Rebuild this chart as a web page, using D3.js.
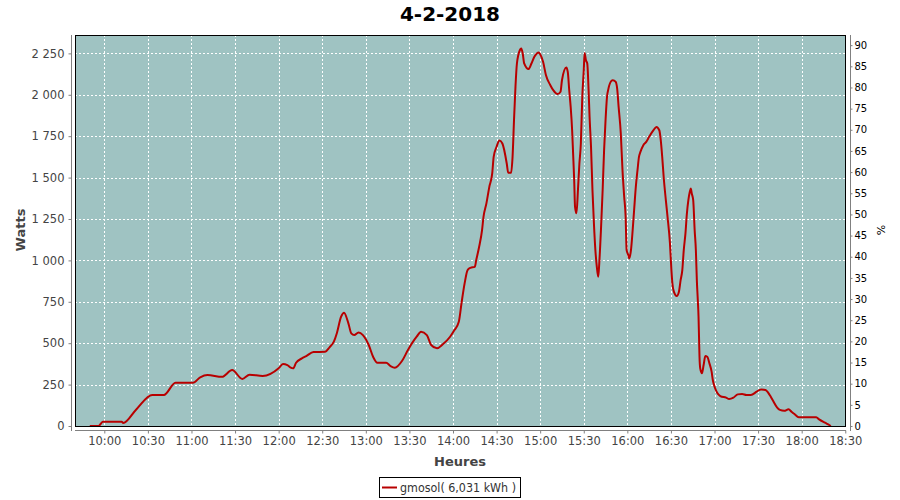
<!DOCTYPE html>
<html>
<head>
<meta charset="utf-8">
<script src="https://cdn.jsdelivr.net/npm/d3@7"></script>
<style>
  html, body { margin: 0; padding: 0; background: #fff; }
  svg { display: block; font-family: "DejaVu Sans", sans-serif; }
</style>
</head>
<body>
<svg id="chart" width="900" height="500"></svg>
<script>
// ---- data ----
const title = "4-2-2018";
const seriesName = "gmosol( 6,031 kWh )";
const times = [
  "09:50","09:56","09:59","10:12","10:13","10:22","10:33","10:41","10:49","11:01",
  "11:06","11:11","11:21","11:28","11:35","11:40","11:49","12:00","12:03","12:06",
  "12:08","12:10","12:12","12:16","12:19","12:24","12:32","12:35","12:38","12:40",
  "12:43","12:45","12:48","12:50","12:52","12:55","12:58","13:02","13:05","13:08",
  "13:14","13:17","13:20","13:25","13:29","13:35","13:38","13:42","13:45","13:49",
  "13:53","13:58","14:01","14:04","14:06","14:08","14:10","14:12","14:15","14:16",
  "14:18","14:20","14:21","14:23","14:25","14:27","14:28","14:30","14:32","14:34",
  "14:37","14:38","14:40","14:41","14:42","14:43","14:44","14:46","14:47","14:48",
  "14:49","14:52","14:54","14:56","14:59","15:00","15:02","15:04","15:07","15:09",
  "15:12","15:14","15:15","15:18","15:19","15:20","15:21","15:22","15:22:40","15:23:25",
  "15:24","15:25","15:26","15:27","15:28","15:29","15:30","15:30:35","15:31:30","15:32:25",
  "15:33:20","15:34","15:35","15:36","15:37","15:38","15:39","15:40","15:40:40","15:41:50",
  "15:43","15:44","15:45","15:46","15:47","15:49","15:50","15:52","15:53","15:54",
  "15:55:30","15:56:40","15:57:50","15:58:50","15:59:30","16:00:40","16:01:20","16:02:30","16:03:40","16:04:40",
  "16:05:50","16:07","16:08","16:09","16:11","16:13","16:15","16:18","16:20","16:22",
  "16:23","16:24","16:25","16:26:30","16:27:40","16:29:20","16:30:20","16:31","16:32","16:34",
  "16:35:30","16:36:40","16:37:50","16:38:50","16:40","16:41","16:42","16:43","16:43:40","16:44:20",
  "16:45:20","16:46:20","16:47:10","16:47:50","16:48:30","16:49","16:49:20","16:49:40","16:50:10","16:51:20",
  "16:52:30","16:53:40","16:55","16:56:30","16:58","16:58:50","17:00:10","17:01:50","17:04","17:08",
  "17:10","17:13","17:16","17:19","17:22","17:25","17:29","17:32","17:35","17:38",
  "17:40","17:43","17:45","17:48","17:51","17:53","17:55","17:58","18:10","18:12",
  "18:16","18:19","18:20"
];
const watts = [
  0,0,25,26,18,100,187,187,261,261,
  294,308,297,338,284,310,302,348,374,368,
  354,348,382,408,422,447,448,475,509,559,
  660,684,620,559,549,565,549,489,418,382,
  382,362,352,394,459,539,569,549,489,469,
  493,539,579,629,750,861,941,955,961,1002,
  1082,1183,1263,1344,1444,1525,1625,1686,1724,1706,
  1585,1529,1529,1625,1847,2048,2189,2269,2279,2249,
  2189,2155,2189,2229,2255,2245,2199,2118,2058,2028,
  2004,2018,2088,2165,2138,2028,1927,1786,1646,1485,
  1323,1284,1424,1585,1706,1987,2148,2253,2209,2189,
  2028,1867,1686,1424,1223,1062,961,901,982,1183,
  1424,1666,1847,1987,2037,2084,2088,2078,2037,1927,
  1766,1545,1384,1263,1062,1032,1012,1062,1183,1304,
  1444,1545,1625,1655,1696,1716,1746,1786,1806,1786,
  1726,1625,1505,1364,1263,1103,941,861,811,785,
  811,881,941,1062,1163,1284,1364,1414,1434,1404,
  1364,1183,1062,881,760,660,539,418,348,318,
  368,422,418,378,328,278,234,201,181,171,
  163,171,191,193,187,187,207,221,217,187,
  157,113,97,92,101,86,72,53,53,40,
  20,6,0
];
const yTicks = [0,250,500,750,1000,1250,1500,1750,2000,2250];
const pctTicks = [0,5,10,15,20,25,30,35,40,45,50,55,60,65,70,75,80,85,90];
const xTickLabels = ["10:00","10:30","11:00","11:30","12:00","12:30","13:00","13:30","14:00","14:30","15:00","15:30","16:00","16:30","17:00","17:30","18:00","18:30"];
const xLabel = "Heures", yLabel = "Watts", y2Label = "%";

// ---- helpers ----
function toDate(s) {
  const p = s.split(":").map(Number);
  return new Date(2018, 1, 4, p[0], p[1], p[2] || 0);
}
const data = times.map((t, i) => ({ t: toDate(t), v: watts[i] }));

// ---- layout ----
const L = 75, T = 35, R = 846, B = 426;
const svg = d3.select("#chart");

const x = d3.scaleTime()
  .domain([new Date(2018,1,4,9,39,50), new Date(2018,1,4,18,30,30)])
  .range([L, R]);
const y = d3.scaleLinear().domain([0, 2361]).range([B, T]);
const y2 = d3.scaleLinear().domain([0, 92.4]).range([B, T]);

const fr = d3.formatLocale({ decimal: ",", thousands: " ", grouping: [3], currency: ["", ""] });
const fmtW = fr.format(",d");

// title
svg.append("text").attr("x", 450).attr("y", 21).attr("text-anchor", "middle")
  .attr("font-size", 20).attr("font-weight", "bold").attr("fill", "#000").text(title);

// plot background
svg.append("rect").attr("x", L).attr("y", T).attr("width", R - L).attr("height", B - T)
  .attr("fill", "#9fc3c2");

const xTickDates = xTickLabels.map(toDate);

// grid
const grid = svg.append("g").attr("stroke", "#fff").attr("stroke-dasharray", "2,2").attr("stroke-width", 1);
grid.selectAll("line.v").data(xTickDates).join("line")
  .attr("x1", d => Math.round(x(d)) + 0.5).attr("x2", d => Math.round(x(d)) + 0.5)
  .attr("y1", T).attr("y2", B);
grid.selectAll("line.h").data(yTicks.filter(d => d > 0)).join("line")
  .attr("y1", d => Math.round(y(d)) + 0.5).attr("y2", d => Math.round(y(d)) + 0.5)
  .attr("x1", L).attr("x2", R);

// series
svg.append("defs").append("clipPath").attr("id", "clip")
  .append("rect").attr("x", L).attr("y", T).attr("width", R - L).attr("height", B - T);
const line = d3.line().x(d => x(d.t)).y(d => y(d.v)).curve(d3.curveMonotoneX);
svg.append("path").datum(data).attr("clip-path", "url(#clip)")
  .attr("fill", "none").attr("stroke", "#b80000").attr("stroke-width", 2)
  .attr("stroke-linejoin", "round").attr("d", line);

// plot outline
svg.append("rect").attr("x", L + 0.5).attr("y", T + 0.5).attr("width", R - L - 1).attr("height", B - T)
  .attr("fill", "none").attr("stroke", "#000").attr("stroke-width", 1);

// axes
const tf = d3.timeFormat("%H:%M");
const xAxis = svg.append("g").attr("transform", `translate(0,${B + 4.5})`)
  .call(d3.axisBottom(x).tickValues(xTickDates).tickFormat(tf).tickSizeInner(3).tickSizeOuter(0).tickPadding(3));
const yAxis = svg.append("g").attr("transform", `translate(${L - 3.5},0)`)
  .call(d3.axisLeft(y).tickValues(yTicks).tickFormat(fmtW).tickSizeInner(3).tickSizeOuter(0).tickPadding(4));
const y2Axis = svg.append("g").attr("transform", `translate(${R + 4.5},0)`)
  .call(d3.axisRight(y2).tickValues(pctTicks).tickFormat(d3.format("d")).tickSizeInner(2).tickSizeOuter(0).tickPadding(2));

[xAxis, yAxis, y2Axis].forEach(g => {
  g.select(".domain").attr("stroke", "#808080");
  g.selectAll(".tick line").attr("stroke", "#808080");
  g.selectAll(".tick text").attr("font-family", "DejaVu Sans, sans-serif").attr("fill", "#444");
});
xAxis.select(".domain").attr("d", `M${L},0H${R}`);
yAxis.select(".domain").attr("d", `M0,${T}V${B + 5}`);
y2Axis.select(".domain").attr("d", `M0,${T}V${B + 5}`);
xAxis.selectAll(".tick text").attr("font-size", 11.5);
yAxis.selectAll(".tick text").attr("font-size", 11.5);
y2Axis.selectAll(".tick text").attr("font-size", 10).attr("fill", "#000");

// axis labels
svg.append("text").attr("x", 460).attr("y", 466).attr("text-anchor", "middle")
  .attr("font-size", 13).attr("font-weight", "bold").attr("fill", "#444").text(xLabel);
svg.append("text").attr("transform", "translate(25,230) rotate(-90)").attr("text-anchor", "middle")
  .attr("font-size", 13).attr("font-weight", "bold").attr("fill", "#444").text(yLabel);
svg.append("text").attr("transform", "translate(885,230) rotate(-90)").attr("text-anchor", "middle")
  .attr("font-size", 11).attr("fill", "#000").text(y2Label);

// legend
const lg = svg.append("g");
lg.append("rect").attr("x", 379.5).attr("y", 477.5).attr("width", 141).attr("height", 20)
  .attr("fill", "#fff").attr("stroke", "#000");
lg.append("line").attr("x1", 382).attr("x2", 397).attr("y1", 487.5).attr("y2", 487.5)
  .attr("stroke", "#b80000").attr("stroke-width", 2);
lg.append("text").attr("x", 400).attr("y", 492).attr("font-size", 11.5).attr("fill", "#333")
  .attr("textLength", 116).attr("lengthAdjust", "spacingAndGlyphs").text(seriesName);
</script>
</body>
</html>
